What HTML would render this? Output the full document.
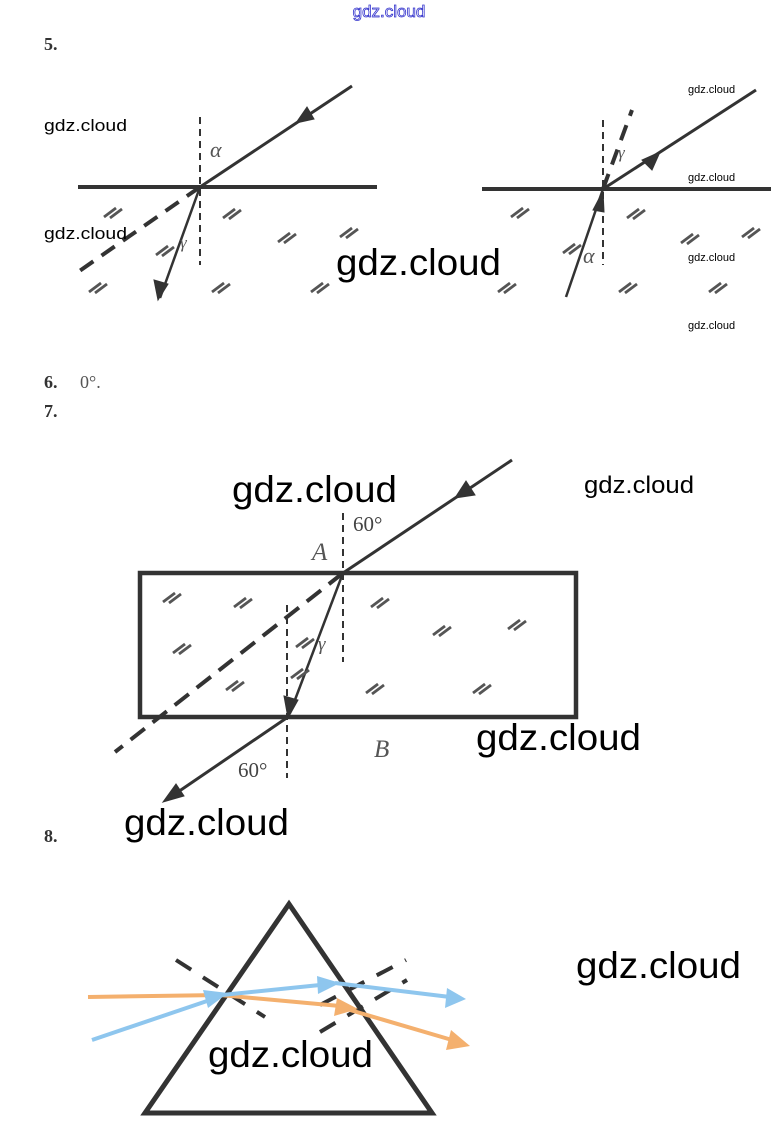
<!DOCTYPE html>
<html><head><meta charset="utf-8"><style>
body{margin:0;background:#fff;width:778px;height:1133px;overflow:hidden}
svg{display:block}
.wm{font-family:"Liberation Sans",sans-serif;fill:#000}
.num{font-family:"Liberation Serif",serif;font-weight:bold;font-size:18px;fill:#333}
.gr{font-family:"Liberation Serif",serif;font-style:italic;fill:#555}
</style></head><body>
<svg width="778" height="1133" viewBox="0 0 778 1133">
<defs>
<g id="h"><line x1="-9" y1="5" x2="3" y2="-4" stroke="#555" stroke-width="2.8"/><line x1="-3" y1="6" x2="9" y2="-3" stroke="#555" stroke-width="2.8"/></g>
</defs>
<text x="389" y="17" text-anchor="middle" font-family="Liberation Sans,sans-serif" font-size="17" fill="none" stroke="#33c" stroke-width="0.8">gdz.cloud</text>
<text x="44" y="50" class="num">5.</text>
<!-- left fig -->
<g stroke="#333" fill="none">
<line x1="78" y1="187" x2="377" y2="187" stroke-width="4"/>
<line x1="200" y1="117" x2="200" y2="265" stroke-width="2" stroke-dasharray="7,5"/>
<line x1="352" y1="86" x2="200" y2="187" stroke-width="3"/>
<path d="M296,123 L314,119 L307,107z" fill="#333"/>
<line x1="200" y1="187" x2="160" y2="298" stroke-width="2.5"/>
<path d="M158,300 L154,280 L168,284z" fill="#333"/>
<line x1="200" y1="187" x2="78" y2="272" stroke-width="4" stroke-dasharray="16,10"/>
</g>
<g><use href="#h" x="113" y="212"/><use href="#h" x="232" y="213"/><use href="#h" x="287" y="237"/><use href="#h" x="349" y="232"/><use href="#h" x="165" y="250"/><use href="#h" x="98" y="287"/><use href="#h" x="221" y="287"/><use href="#h" x="320" y="287"/></g>
<text x="210" y="157" class="gr" font-size="22">α</text>
<text x="180" y="248" class="gr" font-size="17">γ</text>
<!-- right fig -->
<g stroke="#333" fill="none">
<line x1="482" y1="189" x2="771" y2="189" stroke-width="4"/>
<line x1="603" y1="120" x2="603" y2="265" stroke-width="2" stroke-dasharray="7,5"/>
<line x1="566" y1="297" x2="603" y2="189" stroke-width="2.5"/>
<path d="M603,191 L593,210 L604,212z" fill="#333"/>
<line x1="603" y1="189" x2="756" y2="90" stroke-width="3"/>
<path d="M660,152 L642,160 L652,170z" fill="#333"/>
<line x1="603" y1="189" x2="632" y2="110" stroke-width="4" stroke-dasharray="16,10"/>
</g>
<g><use href="#h" x="520" y="212"/><use href="#h" x="636" y="213"/><use href="#h" x="690" y="238"/><use href="#h" x="751" y="232"/><use href="#h" x="572" y="248"/><use href="#h" x="507" y="287"/><use href="#h" x="628" y="287"/><use href="#h" x="718" y="287"/></g>
<text x="618" y="158" class="gr" font-size="17">γ</text>
<text x="583" y="263" class="gr" font-size="22">α</text>
<text x="44" y="131" class="wm" font-size="17" textLength="83" lengthAdjust="spacingAndGlyphs">gdz.cloud</text>
<text x="44" y="239" class="wm" font-size="17" textLength="83" lengthAdjust="spacingAndGlyphs">gdz.cloud</text>
<text x="336" y="275" class="wm" font-size="37" textLength="165" lengthAdjust="spacingAndGlyphs">gdz.cloud</text>
<text x="688" y="93" class="wm" font-size="11">gdz.cloud</text>
<text x="688" y="181" class="wm" font-size="11">gdz.cloud</text>
<text x="688" y="261" class="wm" font-size="11">gdz.cloud</text>
<text x="688" y="329" class="wm" font-size="11">gdz.cloud</text>
<text x="44" y="388" class="num">6.</text>
<text x="80" y="388" font-family="Liberation Serif,serif" font-size="18" fill="#555">0°.</text>
<text x="44" y="417" class="num">7.</text>
<!-- fig 7 -->
<g stroke="#333" fill="none">
<rect x="140" y="573" width="436" height="144" stroke-width="4.5"/>
<line x1="343" y1="513" x2="343" y2="662" stroke-width="2" stroke-dasharray="7,5"/>
<line x1="287" y1="605" x2="287" y2="778" stroke-width="2" stroke-dasharray="7,5"/>
<line x1="512" y1="460" x2="343" y2="573" stroke-width="3"/>
<path d="M455,498 L475,495 L466,481z" fill="#333"/>
<line x1="343" y1="573" x2="290" y2="713" stroke-width="2.5"/>
<path d="M288,718 L284,696 L298,700z" fill="#333"/>
<line x1="288" y1="717" x2="175" y2="794" stroke-width="3"/>
<path d="M163,802 L176,784 L184,796z" fill="#333"/>
<line x1="343" y1="573" x2="115" y2="752" stroke-width="4" stroke-dasharray="18,10"/>
</g>
<g><use href="#h" x="172" y="597"/><use href="#h" x="243" y="602"/><use href="#h" x="380" y="602"/><use href="#h" x="442" y="630"/><use href="#h" x="517" y="624"/><use href="#h" x="182" y="648"/><use href="#h" x="305" y="642"/><use href="#h" x="235" y="685"/><use href="#h" x="300" y="673"/><use href="#h" x="375" y="688"/><use href="#h" x="482" y="688"/></g>
<text x="353" y="531" font-family="Liberation Serif,serif" font-size="21" fill="#444">60°</text>
<text x="312" y="560" class="gr" font-size="25">A</text>
<text x="318" y="650" class="gr" font-size="19">γ</text>
<text x="374" y="757" class="gr" font-size="25">B</text>
<text x="238" y="777" font-family="Liberation Serif,serif" font-size="21" fill="#444">60°</text>
<text x="232" y="502" class="wm" font-size="37" textLength="165" lengthAdjust="spacingAndGlyphs">gdz.cloud</text>
<text x="584" y="493" class="wm" font-size="24" textLength="110" lengthAdjust="spacingAndGlyphs">gdz.cloud</text>
<text x="476" y="750" class="wm" font-size="37" textLength="165" lengthAdjust="spacingAndGlyphs">gdz.cloud</text>
<text x="124" y="835" class="wm" font-size="37" textLength="165" lengthAdjust="spacingAndGlyphs">gdz.cloud</text>
<text x="44" y="842" class="num">8.</text>
<!-- fig 8 -->
<polygon points="289,904 145,1113 432,1113" fill="none" stroke="#333" stroke-width="5"/>
<g stroke="#333" stroke-width="4" stroke-dasharray="18,14" fill="none">
<line x1="176" y1="960" x2="265" y2="1017"/>
<line x1="320" y1="1005" x2="406" y2="960"/>
<line x1="320" y1="1032" x2="407" y2="980"/>
</g>
<g fill="none" stroke-width="4">
<polyline points="88,997 220,995 340,1006" stroke="#f4b06e"/>
<polyline points="350,1010 452,1040" stroke="#f4b06e"/>
<polyline points="92,1040 210,1000" stroke="#8ec6ee"/>
<polyline points="222,995 320,985" stroke="#8ec6ee"/>
<polyline points="335,983 450,997" stroke="#8ec6ee"/>
</g>
<path d="M358,1009 L334,1016 L337,998z" fill="#f4b06e"/>
<path d="M470,1046 L446,1050 L451,1030z" fill="#f4b06e"/>
<path d="M228,993 L208,1008 L203,990z" fill="#8ec6ee"/>
<path d="M340,983 L318,994 L317,976z" fill="#8ec6ee"/>
<path d="M466,999 L445,1008 L447,988z" fill="#8ec6ee"/>
<text x="208" y="1067" class="wm" font-size="37" textLength="165" lengthAdjust="spacingAndGlyphs">gdz.cloud</text>
<text x="576" y="978" class="wm" font-size="37" textLength="165" lengthAdjust="spacingAndGlyphs">gdz.cloud</text>
</svg>
</body></html>
